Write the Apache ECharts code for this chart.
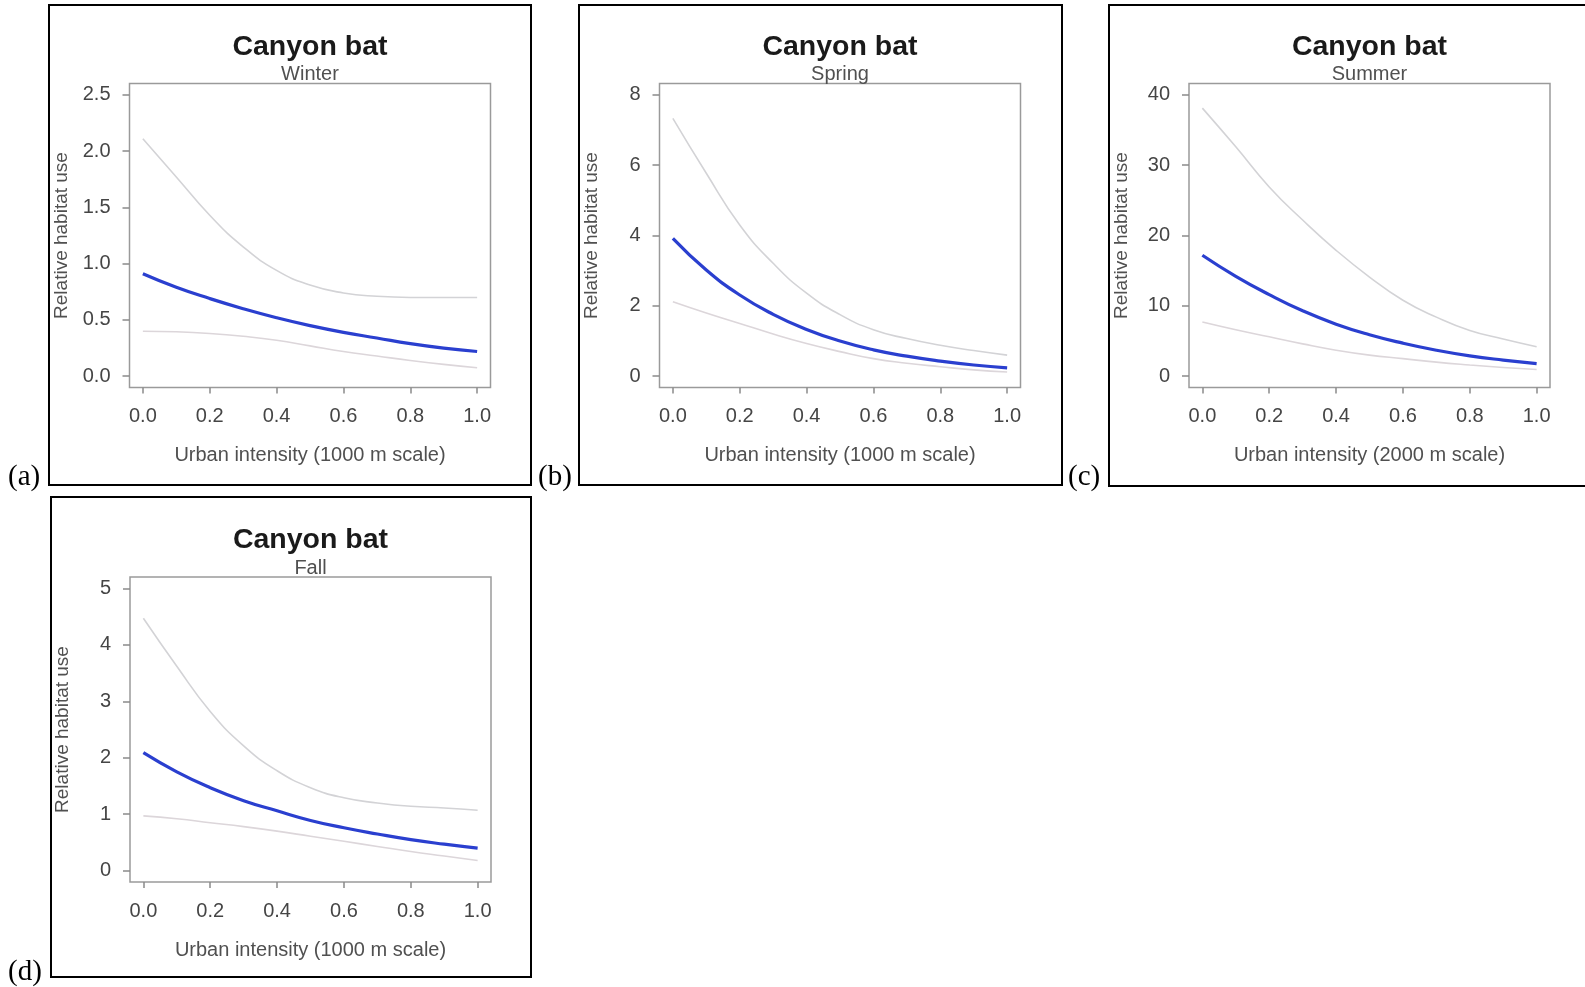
<!DOCTYPE html>
<html>
<head>
<meta charset="utf-8">
<script src="https://cdn.jsdelivr.net/npm/echarts@6/dist/echarts.min.js"></script>
<style>
html,body{margin:0;padding:0;background:#fff;}
#chart{width:1585px;height:987px;}
</style>
</head>
<body>
<div id="chart"></div>
<script>
// ---- data ----
const xs = [0, 0.1, 0.2, 0.3, 0.4, 0.5, 0.6, 0.7, 0.8, 0.9, 1.0];
const xTicks = [0, 0.2, 0.4, 0.6, 0.8, 1.0];

const winterMean  = [0.91, 0.79, 0.69, 0.60, 0.52, 0.45, 0.39, 0.34, 0.29, 0.25, 0.22];
const winterUpper = [2.11, 1.77, 1.43, 1.15, 0.94, 0.81, 0.74, 0.71, 0.70, 0.70, 0.70];
const winterLower = [0.40, 0.395, 0.38, 0.355, 0.32, 0.27, 0.22, 0.18, 0.14, 0.105, 0.075];
const winterTicks = [0, 0.5, 1.0, 1.5, 2.0, 2.5];

const springMean  = [3.92, 3.02, 2.31, 1.76, 1.33, 1.00, 0.75, 0.57, 0.43, 0.32, 0.24];
const springUpper = [7.33, 5.77, 4.30, 3.21, 2.36, 1.75, 1.32, 1.07, 0.88, 0.73, 0.60];
const springLower = [2.12, 1.80, 1.50, 1.20, 0.93, 0.70, 0.50, 0.37, 0.27, 0.18, 0.12];
const springTicks = [0, 2, 4, 6, 8];

const summerMean  = [17.2, 14.2, 11.6, 9.3, 7.4, 5.9, 4.7, 3.7, 2.9, 2.3, 1.8];
const summerUpper = [38.1, 32.6, 26.9, 22.2, 17.9, 14.1, 10.8, 8.4, 6.5, 5.3, 4.2];
const summerLower = [7.7, 6.6, 5.6, 4.6, 3.7, 3.0, 2.5, 2.0, 1.6, 1.25, 0.95];
const summerTicks = [0, 10, 20, 30, 40];

const fallMean  = [2.09, 1.75, 1.47, 1.24, 1.06, 0.89, 0.76, 0.65, 0.55, 0.47, 0.40];
const fallUpper = [4.47, 3.62, 2.82, 2.21, 1.77, 1.47, 1.29, 1.20, 1.14, 1.11, 1.07];
const fallLower = [0.97, 0.92, 0.85, 0.78, 0.70, 0.61, 0.52, 0.43, 0.34, 0.26, 0.18];
const fallTicks = [0, 1, 2, 3, 4, 5];

const titleText = 'Canyon bat';
const seasons = ['Winter', 'Spring', 'Summer', 'Fall'];
const xNames = ['Urban intensity (1000 m scale)', 'Urban intensity (1000 m scale)', 'Urban intensity (2000 m scale)', 'Urban intensity (1000 m scale)'];
const yName = 'Relative habitat use';
const panelLetters = ['(a)', '(b)', '(c)', '(d)'];

// ---- layout (positions only) ----
const panels = [
  {box: [49, 5, 482, 480],  grid: {left: 129.5, top: 83.5, width: 361, height: 304}, letter: [8, 477]},
  {box: [579, 5, 483, 480], grid: {left: 659.5, top: 83.5, width: 361, height: 304}, letter: [538, 477]},
  {box: [1109, 5, 486, 481], grid: {left: 1189, top: 83.5, width: 361, height: 304}, letter: [1068, 477]},
  {box: [51, 497, 480, 480], grid: {left: 130, top: 577, width: 361, height: 305}, letter: [8, 972]}
];
const seriesSets = [
  {mean: winterMean, upper: winterUpper, lower: winterLower, ticks: winterTicks, dec: 1},
  {mean: springMean, upper: springUpper, lower: springLower, ticks: springTicks, dec: 0},
  {mean: summerMean, upper: summerUpper, lower: summerLower, ticks: summerTicks, dec: 0},
  {mean: fallMean,   upper: fallUpper,   lower: fallLower,   ticks: fallTicks,   dec: 0}
];

const FONT = '"Liberation Sans", Arial, Helvetica, sans-serif';
const grids = [], xAxes = [], yAxes = [], series = [], titles = [], graphics = [];
const toPairs = vals => xs.map((x, i) => [x, vals[i]]);

panels.forEach((p, k) => {
  const s = seriesSets[k];
  const g = p.grid;
  grids.push({left: g.left, top: g.top, width: g.width, height: g.height, show: true,
    borderColor: '#9a9a9a', borderWidth: 1.5, backgroundColor: 'transparent', containLabel: false});
  const xSpan = xTicks[xTicks.length - 1] - xTicks[0];
  xAxes.push({
    type: 'value', gridIndex: k,
    min: xTicks[0] - 0.04 * xSpan, max: xTicks[xTicks.length - 1] + 0.04 * xSpan,
    axisLine: {show: false, onZero: false},
    splitLine: {show: false},
    axisTick: {show: true, inside: false, length: 6, customValues: xTicks, lineStyle: {color: '#8a8a8a', width: 1.5}},
    axisLabel: {customValues: xTicks, formatter: v => v.toFixed(1), color: '#454545', fontSize: 20, fontFamily: FONT, margin: 19},
    name: xNames[k], nameLocation: 'middle', nameGap: 58,
    nameTextStyle: {color: '#505050', fontSize: 20, fontFamily: FONT}
  });
  const yt = s.ticks;
  const ySpan = yt[yt.length - 1] - yt[0];
  yAxes.push({
    type: 'value', gridIndex: k,
    min: yt[0] - 0.04 * ySpan, max: yt[yt.length - 1] + 0.04 * ySpan,
    axisLine: {show: false, onZero: false},
    splitLine: {show: false},
    axisTick: {show: true, inside: false, length: 7, customValues: yt, lineStyle: {color: '#8a8a8a', width: 1.5}},
    axisLabel: {customValues: yt, formatter: v => v.toFixed(s.dec), color: '#454545', fontSize: 20, fontFamily: FONT, margin: 19},
    name: yName, nameLocation: 'middle', nameGap: 58, nameRotate: 90,
    nameTextStyle: {color: '#505050', fontSize: 19, fontFamily: FONT}
  });
  const common = {type: 'line', xAxisIndex: k, yAxisIndex: k, showSymbol: false, smooth: 0.5, silent: true};
  series.push(Object.assign({}, common, {name: 'Upper ' + seasons[k], data: toPairs(s.upper), lineStyle: {color: '#d3d3d6', width: 1.6}, z: 2}));
  series.push(Object.assign({}, common, {name: 'Lower ' + seasons[k], data: toPairs(s.lower), lineStyle: {color: '#dcd6da', width: 1.6}, z: 2}));
  series.push(Object.assign({}, common, {name: 'Mean ' + seasons[k], data: toPairs(s.mean), lineStyle: {color: '#2a3fcf', width: 3.2}, z: 3}));

  const cx = g.left + g.width / 2;
  titles.push({text: titleText, left: cx, top: g.top - 51, textAlign: 'center', padding: 0,
    textStyle: {fontSize: 28.5, fontWeight: 'bold', color: '#1a1a1a', fontFamily: FONT}});
  titles.push({text: seasons[k], left: cx, top: g.top - 19, textAlign: 'center', padding: 0,
    textStyle: {fontSize: 20, fontWeight: 'normal', color: '#505050', fontFamily: FONT}});

  graphics.push({type: 'rect', shape: {x: p.box[0], y: p.box[1], width: p.box[2], height: p.box[3]},
    style: {fill: 'none', stroke: '#000', lineWidth: 2}, z: 0, silent: true});
  graphics.push({type: 'text', x: p.letter[0], y: p.letter[1],
    style: {text: panelLetters[k], font: '29px "Liberation Serif", "Times New Roman", serif', fill: '#000', textVerticalAlign: 'middle'}, silent: true});
});

const chart = echarts.init(document.getElementById('chart'), null, {renderer: 'canvas'});
chart.setOption({
  animation: false,
  backgroundColor: '#ffffff',
  title: titles,
  grid: grids,
  xAxis: xAxes,
  yAxis: yAxes,
  series: series,
  graphic: graphics
});
</script>
</body>
</html>
